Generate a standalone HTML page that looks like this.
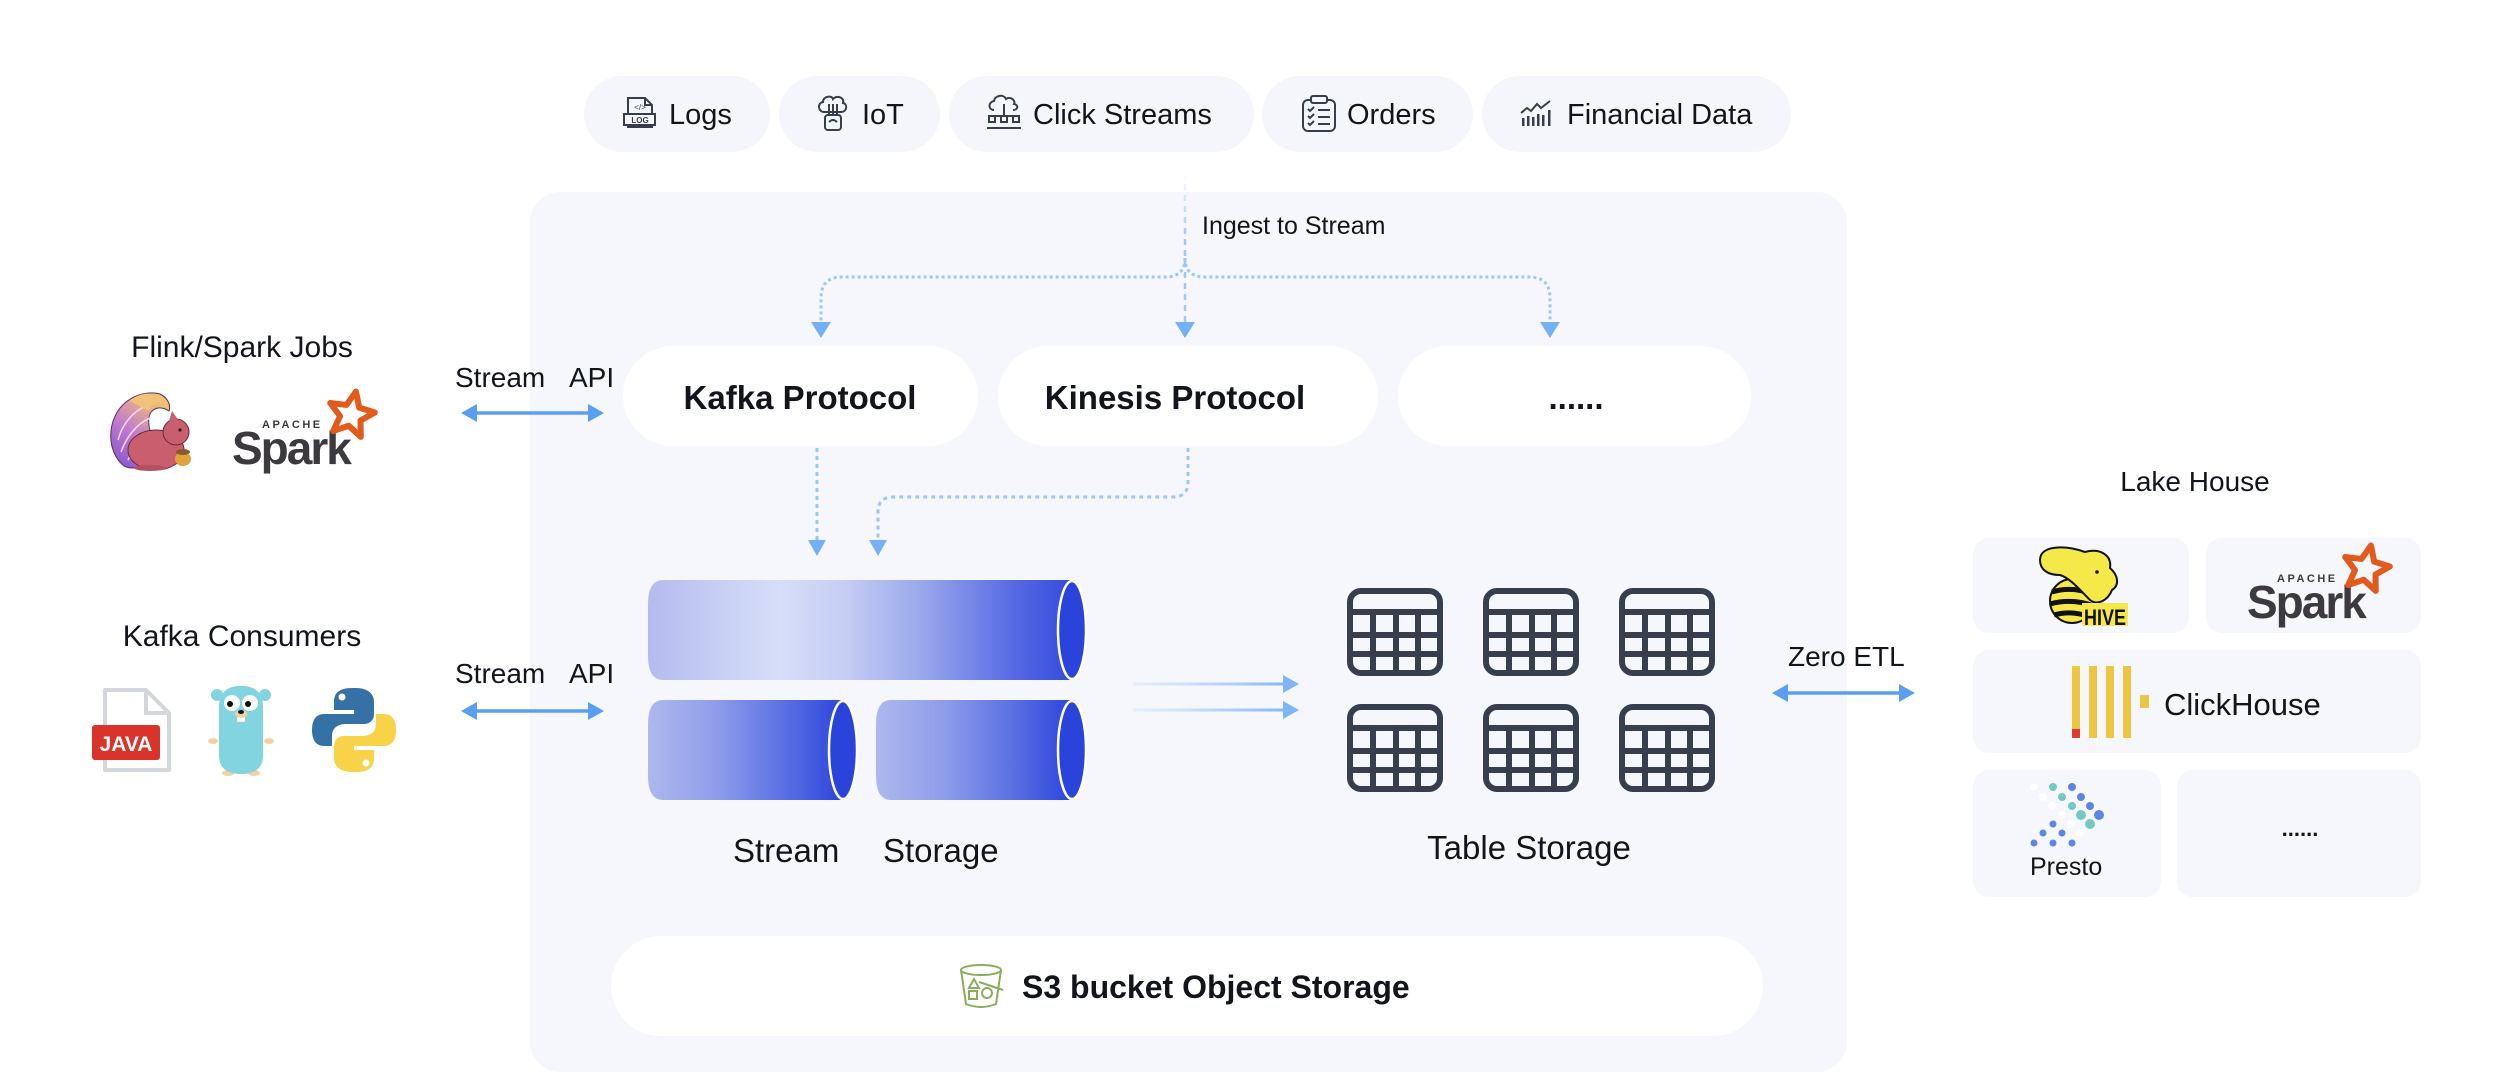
<!DOCTYPE html>
<html><head><meta charset="utf-8"><style>
html,body{margin:0;padding:0;background:#fff;}
#c{position:relative;width:2494px;height:1090px;overflow:hidden;background:#fff;}
svg text{font-family:"Liberation Sans",sans-serif;}
</style></head><body><div id="c">
<svg width="2494" height="1090" viewBox="0 0 2494 1090" xmlns="http://www.w3.org/2000/svg">
<defs>
<linearGradient id="gTop" gradientUnits="userSpaceOnUse" x1="648" y1="0" x2="1086" y2="0">
<stop offset="0" stop-color="#b3bcef"/><stop offset="0.3" stop-color="#d7def8"/><stop offset="0.45" stop-color="#c5cdf4"/><stop offset="0.62" stop-color="#9ba9ec"/><stop offset="0.85" stop-color="#5266e2"/><stop offset="1" stop-color="#2c45dc"/>
</linearGradient>
<linearGradient id="gBot" x1="0" y1="0" x2="1" y2="0">
<stop offset="0" stop-color="#aeb8ee"/><stop offset="0.35" stop-color="#8e9dea"/><stop offset="0.7" stop-color="#5a6fe3"/><stop offset="1" stop-color="#2c45dc"/>
</linearGradient>
<linearGradient id="gIn" gradientUnits="userSpaceOnUse" x1="0" y1="173" x2="0" y2="240">
<stop offset="0" stop-color="#9ec7f8" stop-opacity="0"/><stop offset="1" stop-color="#9ec7f8"/>
</linearGradient>
<linearGradient id="gArr" gradientUnits="userSpaceOnUse" x1="1133" y1="0" x2="1290" y2="0">
<stop offset="0" stop-color="#a9cdf9" stop-opacity="0.2"/><stop offset="1" stop-color="#7fb4f6"/>
</linearGradient>
<linearGradient id="gTail" x1="0" y1="1" x2="0.6" y2="0">
<stop offset="0" stop-color="#7e4fd0"/><stop offset="0.5" stop-color="#c07ad0"/><stop offset="1" stop-color="#f0c070"/>
</linearGradient>
</defs>

<!-- main panel -->
<rect x="530" y="192" width="1317" height="880" rx="30" fill="#f5f7fc"/>

<!-- source pills -->
<g fill="#f4f6fb">
<rect x="584" y="76" width="186" height="76" rx="38"/>
<rect x="779" y="76" width="161" height="76" rx="38"/>
<rect x="949" y="76" width="305" height="76" rx="38"/>
<rect x="1262" y="76" width="211" height="76" rx="38"/>
<rect x="1482" y="76" width="309" height="76" rx="38"/>
</g>
<g font-size="29" fill="#12151c">
<text x="669" y="124">Logs</text>
<text x="862" y="124">IoT</text>
<text x="1033" y="124">Click Streams</text>
<text x="1347" y="124">Orders</text>
<text x="1567" y="124">Financial Data</text>
</g>
<!-- pill icons -->
<g fill="none" stroke="#363d4c" stroke-width="2">
<path d="M628 98 H645 L652 105 V127 H628 Z"/><path d="M645 98 V105 H652"/>
<rect x="624" y="114" width="31" height="11" fill="#f4f6fb"/>
<path d="M824 112 C818 112 817 103 823 102 C823 96 832 95 833 99 C836 95 845 97 843 103 C848 104 847 112 841 112 Z"/>
<path d="M829 104 V115 M833 104 V115 M837 104 V115"/>
<rect x="825" y="115" width="16" height="15" rx="3"/>
<path d="M829 122 Q833 118 837 122"/>
<path d="M994 110 C988 110 988 102 994 101 C995 95 1004 94 1006 99 C1010 96 1016 100 1014 104 C1019 105 1018 110 1013 110"/>
<path d="M1004 104 V116 M992 116 H1016"/>
<rect x="989" y="116" width="6" height="6"/><rect x="1001" y="116" width="6" height="6"/><rect x="1013" y="116" width="6" height="6"/>
<path d="M987 128 H1021"/>
<rect x="1303" y="100" width="32" height="31" rx="5"/>
<rect x="1311" y="96" width="16" height="7" rx="2" fill="#f4f6fb"/>
<path d="M1308 109 l2 2 l4 -4 M1308 116 l2 2 l4 -4 M1308 123 l2 2 l4 -4 M1318 110 H1330 M1318 117 H1330 M1318 124 H1330"/>
<path d="M1521 113 L1527 108 L1531 111 L1537 104 L1541 108 L1550 101"/>
</g>
<g fill="#363d4c">
<rect x="1522" y="118" width="2.5" height="8"/><rect x="1527" y="116" width="2.5" height="10"/><rect x="1532" y="117" width="2.5" height="9"/><rect x="1537" y="114" width="2.5" height="12"/><rect x="1542" y="115" width="2.5" height="11"/><rect x="1548" y="110" width="2.5" height="16"/>
<text x="640" y="110" font-size="8" text-anchor="middle">&lt;/&gt;</text>
<text x="640" y="123" font-size="8" font-weight="bold" text-anchor="middle">LOG</text>
</g>

<!-- ingest lines -->
<path d="M1185 173 V325" stroke="url(#gIn)" stroke-width="2.5" stroke-dasharray="6 5" fill="none"/>
<g fill="none" stroke="#9cc6f8" stroke-width="3" stroke-dasharray="3 3">
<path d="M1185 258 Q1185 277 1165 277 H842 Q821 277 821 298 V325"/>
<path d="M1185 258 Q1185 277 1205 277 H1529 Q1550 277 1550 298 V325"/>
</g>
<g fill="#75b0f7">
<polygon points="811,322 831,322 821,338"/>
<polygon points="1175,322 1195,322 1185,338"/>
<polygon points="1540,322 1560,322 1550,338"/>
</g>
<text x="1202" y="234" font-size="25" fill="#12151c">Ingest to Stream</text>

<!-- protocol boxes -->
<g fill="#ffffff">
<rect x="623" y="346" width="355" height="100" rx="50"/>
<rect x="998" y="346" width="380" height="100" rx="50"/>
<rect x="1398" y="346" width="353" height="100" rx="50"/>
</g>
<g font-size="33" font-weight="bold" fill="#12151c" text-anchor="middle">
<text x="800" y="409">Kafka Protocol</text>
<text x="1175" y="409">Kinesis Protocol</text>
<text x="1576" y="409">......</text>
</g>

<!-- protocol to stream arrows -->
<g fill="none" stroke="#9cc6f8" stroke-width="3" stroke-dasharray="4 4">
<path d="M817 448 V542"/>
<path d="M1188 448 V482 Q1188 497 1173 497 H893 Q878 497 878 512 V542"/>
</g>
<g fill="#75b0f7">
<polygon points="808,540 826,540 817,556"/>
<polygon points="869,540 887,540 878,556"/>
</g>

<!-- cylinders -->
<path d="M663 580 H1072 V680 H663 Q648 680 648 656 V604 Q648 580 663 580 Z" fill="url(#gTop)"/>
<ellipse cx="1072" cy="630" rx="14" ry="49" fill="#2a44db" stroke="#fff" stroke-width="2.5"/>
<path d="M663 700 H843 V800 H663 Q648 800 648 776 V724 Q648 700 663 700 Z" fill="url(#gBot)"/>
<ellipse cx="843" cy="750" rx="14" ry="49" fill="#2a44db" stroke="#fff" stroke-width="2.5"/>
<path d="M891 700 H1072 V800 H891 Q876 800 876 776 V724 Q876 700 891 700 Z" fill="url(#gBot)"/>
<ellipse cx="1072" cy="750" rx="14" ry="49" fill="#2a44db" stroke="#fff" stroke-width="2.5"/>
<g font-size="33" fill="#12151c">
<text x="733" y="862">Stream</text>
<text x="883" y="862">Storage</text>
</g>

<!-- to table arrows -->
<g stroke="url(#gArr)" stroke-width="3"><path d="M1133 684 H1286"/><path d="M1133 710 H1286"/></g>
<g fill="#7fb4f6">
<polygon points="1283,675 1299,684 1283,693"/>
<polygon points="1283,701 1299,710 1283,719"/>
</g>

<!-- tables -->
<defs>
<g id="tbl">
<rect x="3" y="3" width="90" height="82" rx="11" fill="none" stroke="#373f4f" stroke-width="6"/>
<g stroke="#373f4f" stroke-width="6">
<path d="M3 24 H93 M3 47 H93 M3 66 H93 M26 24 V85 M49 24 V85 M71 24 V85"/>
</g>
</g>
</defs>
<use href="#tbl" x="1347" y="588"/><use href="#tbl" x="1483" y="588"/><use href="#tbl" x="1619" y="588"/>
<use href="#tbl" x="1347" y="704"/><use href="#tbl" x="1483" y="704"/><use href="#tbl" x="1619" y="704"/>
<text x="1529" y="859" font-size="33" fill="#12151c" text-anchor="middle">Table Storage</text>

<!-- S3 bar -->
<rect x="611" y="936" width="1152" height="100" rx="50" fill="#ffffff"/>
<g fill="none" stroke="#8aad5b" stroke-width="2">
<ellipse cx="981" cy="970" rx="20" ry="5"/>
<path d="M961 970 L966 1004 Q981 1010 996 1004 L1001 970"/>
<path d="M979 982 L1003 990"/>
<path d="M969 988 L974 979 L979 988 Z"/>
<rect x="969" y="991" width="8" height="8"/>
<circle cx="987" cy="993" r="5"/>
</g>
<text x="1022" y="998" font-size="32" font-weight="bold" fill="#12151c">S3 bucket Object Storage</text>

<!-- left side labels -->
<g fill="#12151c">
<text x="242" y="357" font-size="30" text-anchor="middle">Flink/Spark Jobs</text>
<text x="242" y="646" font-size="30" text-anchor="middle">Kafka Consumers</text>
<text x="455" y="387" font-size="28">Stream</text>
<text x="569" y="387" font-size="28">API</text>
<text x="455" y="683" font-size="28">Stream</text>
<text x="569" y="683" font-size="28">API</text>
<text x="1788" y="666" font-size="28">Zero ETL</text>
<text x="2195" y="491" font-size="28" text-anchor="middle">Lake House</text>
</g>
<g stroke="#5a9ef2" stroke-width="3.5"><path d="M470 413 H595"/><path d="M470 711 H595"/><path d="M1781 693 H1906"/></g>
<g fill="#5a9ef2">
<polygon points="461,413 477,404 477,422"/><polygon points="604,413 588,404 588,422"/>
<polygon points="461,711 477,702 477,720"/><polygon points="604,711 588,702 588,720"/>
<polygon points="1772,693 1788,684 1788,702"/><polygon points="1915,693 1899,684 1899,702"/>
</g>

<!-- Flink squirrel -->
<g>
<path d="M124 466 C106 452 106 418 126 402 C136 394 150 391 160 394 C168 398 171 405 169 411 C160 405 151 408 149 417 C147 430 156 442 151 458 C145 468 132 470 124 466 Z" fill="url(#gTail)" stroke="#5a3060" stroke-width="1"/>
<path d="M118 440 C122 425 132 412 146 406 M121 452 C126 438 136 424 150 418 M128 460 C134 448 142 436 152 430" stroke="#f3d8f0" stroke-width="1.5" fill="none"/>
<path d="M130 401 C140 391 158 391 166 401 C158 401 151 405 149 411 Z" fill="#f1c27a"/>
<ellipse cx="156" cy="450" rx="28" ry="20" fill="#c95f6e" stroke="#6a2a3a" stroke-width="1"/>
<circle cx="176" cy="432" r="13" fill="#c95f6e" stroke="#6a2a3a" stroke-width="1"/>
<path d="M169 421 L172 411 L179 421 Z" fill="#c95f6e"/>
<circle cx="180" cy="430" r="1.6" fill="#222"/>
<ellipse cx="183" cy="459" rx="8" ry="7" fill="#dfa23e"/>
<ellipse cx="183" cy="452" rx="7" ry="3" fill="#8a5a2a"/>
<ellipse cx="150" cy="468" rx="16" ry="3" fill="#b4505f"/>
</g>

<!-- Spark logo left -->
<g>
<text x="262" y="428" font-size="11" font-weight="bold" letter-spacing="2.5" fill="#3c3a3e">APACHE</text>
<text x="232" y="464" font-size="46" font-weight="bold" letter-spacing="-2" fill="#3c3a3e">Spark</text>
<polygon transform="translate(351,415) rotate(12)" points="0,-24 6.47,-8.9 22.83,-7.42 10.46,3.4 14.11,19.42 0,11 -14.11,19.42 -10.46,3.4 -22.83,-7.42 -6.47,-8.9" fill="none" stroke="#e25a1c" stroke-width="6" stroke-linejoin="round"/>
</g>

<!-- Java -->
<path d="M105 690 H146 L169 713 V770 H105 Z" fill="#fff" stroke="#d3d7dd" stroke-width="4" stroke-linejoin="round"/>
<path d="M146 690 V713 H169" fill="none" stroke="#d3d7dd" stroke-width="4"/>
<rect x="92" y="725" width="68" height="35" rx="3" fill="#d9332a"/>
<text x="126" y="751" font-size="21" font-weight="bold" fill="#fff" text-anchor="middle">JAVA</text>

<!-- Gopher -->
<g transform="translate(208,685)">
<circle cx="9" cy="10" r="6" fill="#82d4e0"/><circle cx="57" cy="10" r="6" fill="#82d4e0"/>
<ellipse cx="5" cy="56" rx="5" ry="3" fill="#f3d2a2"/><ellipse cx="61" cy="56" rx="5" ry="3" fill="#f3d2a2"/>
<ellipse cx="20" cy="88" rx="6" ry="3" fill="#f3d2a2"/><ellipse cx="46" cy="88" rx="6" ry="3" fill="#f3d2a2"/>
<path d="M11 22 C11 6 21 1 33 1 C46 1 55 6 55 22 V70 C55 84 46 89 33 89 C20 89 11 84 11 70 Z" fill="#82d4e0"/>
<circle cx="24" cy="18" r="8" fill="#fff"/><circle cx="42" cy="18" r="8" fill="#fff"/>
<circle cx="22" cy="19" r="3" fill="#111"/><circle cx="40" cy="19" r="3" fill="#111"/>
<rect x="29" y="30" width="8" height="7" fill="#fff" stroke="#ccc" stroke-width="0.5"/>
<ellipse cx="33" cy="29" rx="6" ry="4" fill="#f3d2a2"/>
<ellipse cx="33" cy="27" rx="3" ry="2" fill="#111"/>
</g>

<!-- Python -->
<g transform="translate(312,688)">
<path d="M40 0 C26 0 22 6 22 14 V22 H42 V26 H12 C4 26 0 32 0 42 C0 52 4 58 12 58 H20 V48 C20 40 26 36 34 36 H52 C58 36 62 32 62 26 V14 C62 6 56 0 44 0 Z" fill="#3571a4"/>
<circle cx="30" cy="9" r="3.5" fill="#fff"/>
<path d="M44 84 C58 84 62 78 62 70 V62 H42 V58 H72 C80 58 84 52 84 42 C84 32 80 26 72 26 H64 V36 C64 44 58 48 50 48 H32 C26 48 22 52 22 58 V70 C22 78 28 84 40 84 Z" fill="#f8d348"/>
<circle cx="54" cy="75" r="3.5" fill="#fff"/>
</g>

<!-- Lake house boxes -->
<g fill="#f5f7fc">
<rect x="1973" y="538" width="216" height="95" rx="16"/>
<rect x="2206" y="538" width="215" height="95" rx="16"/>
<rect x="1973" y="650" width="448" height="103" rx="16"/>
<rect x="1973" y="770" width="188" height="127" rx="16"/>
<rect x="2177" y="770" width="244" height="127" rx="16"/>
</g>

<!-- Hive -->
<g>
<ellipse cx="2072" cy="601" rx="22" ry="22" fill="#f5e94a" stroke="#111" stroke-width="2"/>
<path d="M2052 592 Q2072 586 2092 594" stroke="#111" stroke-width="5" fill="none"/>
<path d="M2050 604 Q2072 598 2094 606" stroke="#111" stroke-width="5" fill="none"/>
<path d="M2054 615 Q2072 610 2090 617" stroke="#111" stroke-width="5" fill="none"/>
<path d="M2040 560 C2040 545 2065 545 2085 552 C2100 548 2112 555 2110 568 C2118 575 2120 585 2112 590 C2108 600 2098 606 2090 600 C2080 590 2070 578 2060 575 C2048 575 2040 570 2040 560 Z" fill="#f5e94a" stroke="#111" stroke-width="2"/>
<circle cx="2097" cy="572" r="1.8" fill="#111"/>
<rect x="2082" y="603" width="46" height="23" fill="#f5e94a"/>
<text x="2084" y="625" font-size="22" font-weight="bold" fill="#111" textLength="42" lengthAdjust="spacingAndGlyphs">HIVE</text>
</g>

<!-- Spark right -->
<g transform="translate(2015,154)">
<text x="262" y="428" font-size="11" font-weight="bold" letter-spacing="2.5" fill="#3c3a3e">APACHE</text>
<text x="232" y="464" font-size="46" font-weight="bold" letter-spacing="-2" fill="#3c3a3e">Spark</text>
<polygon transform="translate(351,415) rotate(12)" points="0,-24 6.47,-8.9 22.83,-7.42 10.46,3.4 14.11,19.42 0,11 -14.11,19.42 -10.46,3.4 -22.83,-7.42 -6.47,-8.9" fill="none" stroke="#e25a1c" stroke-width="6" stroke-linejoin="round"/>
</g>

<!-- ClickHouse -->
<g fill="#ecc640">
<rect x="2072" y="666" width="8" height="72"/><rect x="2089" y="666" width="8" height="72"/><rect x="2106" y="666" width="8" height="72"/><rect x="2123" y="666" width="8" height="72"/>
<rect x="2140" y="695" width="9" height="13"/>
</g>
<rect x="2072" y="729" width="8" height="9" fill="#e03a2e"/>
<text x="2164" y="715" font-size="31" fill="#12151c">ClickHouse</text>

<!-- Presto -->
<g fill="#74c9c4">
<circle cx="2053" cy="787" r="4"/><circle cx="2062" cy="797" r="4"/><circle cx="2072" cy="806" r="4"/><circle cx="2081" cy="815" r="5"/><circle cx="2090" cy="824" r="5"/>
</g>
<g fill="#5b86e5">
<circle cx="2072" cy="787" r="4"/><circle cx="2081" cy="797" r="4"/><circle cx="2090" cy="806" r="4"/><circle cx="2099" cy="815" r="5"/>
<circle cx="2053" cy="824" r="3.5"/><circle cx="2043" cy="833" r="3.5"/><circle cx="2062" cy="833" r="3.5"/><circle cx="2034" cy="843" r="3.5"/><circle cx="2053" cy="843" r="3.5"/><circle cx="2072" cy="843" r="3.5"/>
</g>
<g fill="#ffffff">
<circle cx="2034" cy="787" r="3.5"/><circle cx="2043" cy="797" r="4"/><circle cx="2052" cy="806" r="4"/><circle cx="2062" cy="815" r="4"/><circle cx="2071" cy="824" r="4"/><circle cx="2080" cy="833" r="4"/>
</g>
<text x="2030" y="875" font-size="25" fill="#12151c">Presto</text>
<text x="2300" y="836" font-size="22" font-weight="bold" fill="#12151c" text-anchor="middle">......</text>
</svg>
</div></body></html>
